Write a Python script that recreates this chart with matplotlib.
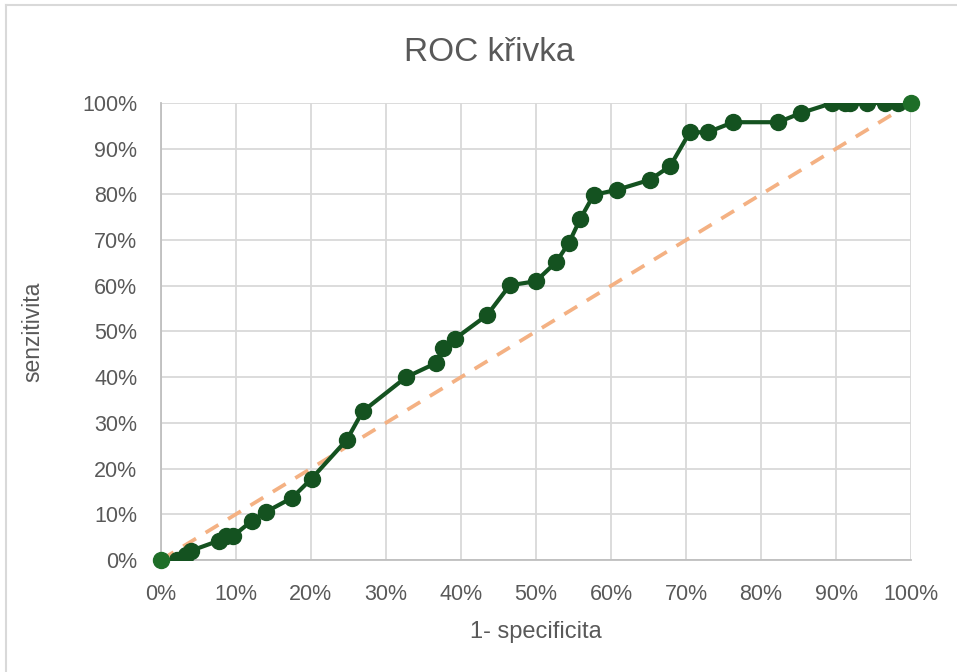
import matplotlib.pyplot as plt
from matplotlib.ticker import PercentFormatter
from matplotlib import font_manager

# ROC body points (1 - specificity, sensitivity)
fpr = [0.021, 0.033, 0.040, 0.077, 0.087, 0.096, 0.121, 0.140, 0.175, 0.201,
       0.248, 0.269, 0.327, 0.367, 0.376, 0.392, 0.435, 0.465, 0.500, 0.527,
       0.544, 0.559, 0.577, 0.608, 0.652, 0.679, 0.705, 0.729, 0.763, 0.823,
       0.853, 0.895, 0.912, 0.919, 0.941, 0.965, 0.983]
tpr = [0.000, 0.011, 0.020, 0.042, 0.052, 0.052, 0.085, 0.105, 0.136, 0.178,
       0.263, 0.325, 0.400, 0.431, 0.464, 0.484, 0.536, 0.601, 0.610, 0.652,
       0.694, 0.746, 0.799, 0.810, 0.832, 0.862, 0.936, 0.936, 0.958, 0.958,
       0.978, 1.000, 1.000, 1.000, 1.000, 1.000, 1.000]
# end points drawn in a lighter green
end_x = [0.0, 1.0]
end_y = [0.0, 1.0]
diag_x = [0.0, 1.0]
diag_y = [0.0, 1.0]
ticks = [0, 0.1, 0.2, 0.3, 0.4, 0.5, 0.6, 0.7, 0.8, 0.9, 1.0]

names = {f.name for f in font_manager.fontManager.ttflist}
narrow = 'Liberation Sans Narrow' if 'Liberation Sans Narrow' in names else 'Liberation Sans'
regular = 'Liberation Sans'
txt = '#595959'

fig = plt.figure(figsize=(9.57, 6.72), dpi=100)
ax = fig.add_axes([0.168, 0.1667, 0.784, 0.68])

ax.plot(diag_x, diag_y, color='#F4B183', lw=2.7, dashes=(4, 3), zorder=2)
ax.plot([end_x[0]] + fpr + [end_x[1]], [end_y[0]] + tpr + [end_y[1]],
        color='#145220', lw=3.0, zorder=3)
ax.plot(fpr, tpr, 'o', color='#145220', ms=11.5, zorder=4)
ax.plot(end_x, end_y, 'o', color='#1E6E28', ms=11.5, zorder=5, clip_on=False)

ax.set_xlim(0, 1)
ax.set_ylim(0, 1)
ax.set_xticks(ticks)
ax.set_yticks(ticks)
ax.xaxis.set_major_formatter(PercentFormatter(1.0, decimals=0))
ax.yaxis.set_major_formatter(PercentFormatter(1.0, decimals=0))
ax.grid(color='#d9d9d9', lw=1.3)
ax.set_axisbelow(True)
for s in ['top', 'right']:
    ax.spines[s].set_visible(False)
for s in ['left', 'bottom']:
    ax.spines[s].set_color('#bfbfbf')
    ax.spines[s].set_linewidth(1.3)
ax.tick_params(axis='x', length=0, pad=17)
ax.tick_params(axis='y', length=0, pad=17)
for lab in ax.get_xticklabels():
    lab.set_fontfamily(narrow)
    lab.set_fontsize(15.5)
    lab.set_color(txt)
for lab in ax.get_yticklabels():
    lab.set_fontfamily(regular)
    lab.set_fontsize(15.5)
    lab.set_color(txt)

ax.set_xlabel('1- specificita', fontfamily=narrow, fontsize=17, color=txt, labelpad=12)
ax.set_ylabel('senzitivita', fontfamily=regular, fontsize=16.5, color=txt, labelpad=27)
fig.text(0.511, 0.922, 'ROC křivka', fontfamily=narrow, fontsize=24, color=txt,
         ha='center', va='center')

# chart frame
fig.add_artist(plt.Line2D([0.006, 0.006], [0, 0.993], color='#d9d9d9', lw=1.5))
fig.add_artist(plt.Line2D([0.006, 1], [0.993, 0.993], color='#d9d9d9', lw=1.5))

fig.savefig('out.png', dpi=100)
